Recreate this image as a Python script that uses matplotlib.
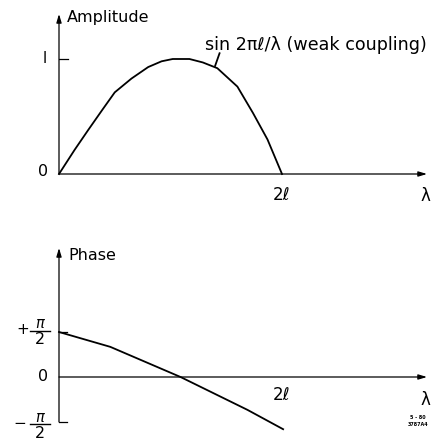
import numpy as np
import matplotlib.pyplot as plt

# ---------------------------------------------------------------
# data (lambda in units of l, phase in radians)
# ---------------------------------------------------------------
amp_lam = [0.0, 0.14, 0.26, 0.39, 0.50, 0.65, 0.80, 0.92, 1.02, 1.17, 1.29,
           1.42, 1.60, 1.74, 1.87, 2.0]
amp_val = [0.0, 0.21, 0.38, 0.56, 0.71, 0.83, 0.93, 0.98, 1.0, 1.0, 0.97,
           0.92, 0.76, 0.53, 0.30, 0.0]

phase_lam = [0.0, 0.46, 1.09, 1.69, 2.01]
phase_val = [1.0, 0.67, 0.0, -0.73, -1.16]  # in units of pi/2
phase_val = [v * np.pi / 2 for v in phase_val]

FW, FH = 435, 442
PX_PER_L = 111.5
X0 = 59

fig = plt.figure(figsize=(FW / 100, FH / 100), dpi=100)
plt.rcParams['font.family'] = ['DejaVu Sans']


def make_axes(top_px, bottom_px, zero_px, px_per_unit):
    left, right = X0, 432
    ax = fig.add_axes([left / FW, 1 - bottom_px / FH,
                       (right - left) / FW, (bottom_px - top_px) / FH])
    ax.set_xlim(0, (right - left) / PX_PER_L)
    ax.set_ylim(-(bottom_px - zero_px) / px_per_unit, (zero_px - top_px) / px_per_unit)
    ax.axis('off')
    return ax


def draw_axes_lines(ax, y_bottom, y_top, x_end):
    arrow = dict(arrowstyle='-|>,head_length=0.5,head_width=0.15', color='black',
                 lw=0.9, shrinkA=0, shrinkB=0)
    ax.annotate('', xy=(0, y_top), xytext=(0, y_bottom), arrowprops=arrow,
                annotation_clip=False)
    ax.annotate('', xy=(x_end, 0), xytext=(0, 0), arrowprops=arrow,
                annotation_clip=False)


def half_pi_label(ax, sign, y_bar, dy):
    # stacked "pi over 2" left of the phase axis; dy = pixel to data scale
    xc = -19 / PX_PER_L
    ax.text(-36 / PX_PER_L if sign == '+' else -39 / PX_PER_L, y_bar + 1 * dy, sign,
            fontsize=11, va='center', ha='center')
    ax.text(xc, y_bar + 7 * dy, 'π', fontsize=10.5, va='center', ha='center',
            style='italic')
    ax.plot([-29 / PX_PER_L, -9 / PX_PER_L], [y_bar, y_bar], color='black', lw=1.0,
            clip_on=False)
    ax.text(xc, y_bar - 9 * dy, '2', fontsize=11.5, va='center', ha='center')


# ---------------------------------------------------------------
# amplitude
# ---------------------------------------------------------------
A_PX = 115
ax1 = make_axes(10, 174, 174, A_PX)
draw_axes_lines(ax1, 0, 160 / A_PX, 368 / PX_PER_L)
ax1.plot(amp_lam, amp_val, color='black', lw=1.3, clip_on=False,
         solid_joinstyle='round')
ax1.plot([0, 9 / PX_PER_L], [1, 1], color='black', lw=0.9)

ax1.text(8 / PX_PER_L, 156 / A_PX, 'Amplitude', fontsize=11.5, va='center', ha='left')
ax1.text(-14 / PX_PER_L, 1, 'I', fontsize=10.5, va='center', ha='center')
ax1.text(-16 / PX_PER_L, 0.02, '0', fontsize=11.5, va='center', ha='center', clip_on=False)
ax1.text(2.0, -21 / A_PX, '2ℓ', fontsize=12, va='center', ha='center')
ax1.text(366 / PX_PER_L, -22 / A_PX, 'λ', fontsize=12, va='center', ha='center')
ax1.text(146 / PX_PER_L, 129 / A_PX, 'sin 2πℓ/λ (weak coupling)', fontsize=12.6,
         va='center', ha='left')
ax1.plot([1.44, 1.40], [1.05, 0.94], color='black', lw=1.3)

# ---------------------------------------------------------------
# phase
# ---------------------------------------------------------------
P_PX = 45 / (np.pi / 2)
ax2 = make_axes(240, 440, 377, P_PX)
draw_axes_lines(ax2, -np.pi / 2, 129 / P_PX, 368 / PX_PER_L)
ax2.plot(phase_lam, phase_val, color='black', lw=1.3, clip_on=False)
ax2.plot([0, 8 / PX_PER_L], [np.pi / 2, np.pi / 2], color='black', lw=0.9)
ax2.plot([0, 8 / PX_PER_L], [-np.pi / 2, -np.pi / 2], color='black', lw=0.9)

ax2.text(9 / PX_PER_L, 121 / P_PX, 'Phase', fontsize=11.5, va='center', ha='left')
half_pi_label(ax2, '+', np.pi / 2 + 1 / P_PX, 1 / P_PX)
half_pi_label(ax2, '−', -np.pi / 2 - 2 / P_PX, 1 / P_PX)
ax2.text(-16 / PX_PER_L, 0.02, '0', fontsize=11.5, va='center', ha='center')
ax2.text(2.0, -18 / P_PX, '2ℓ', fontsize=12, va='center', ha='center')
ax2.text(366 / PX_PER_L, -23 / P_PX, 'λ', fontsize=12, va='center', ha='center')
ax2.text(359 / PX_PER_L, -44 / P_PX, '5 - 80\n3787A4', fontsize=3.5, va='center',
         ha='center', fontweight='bold', linespacing=1.6)

fig.savefig('out.png', dpi=100, facecolor='white')
